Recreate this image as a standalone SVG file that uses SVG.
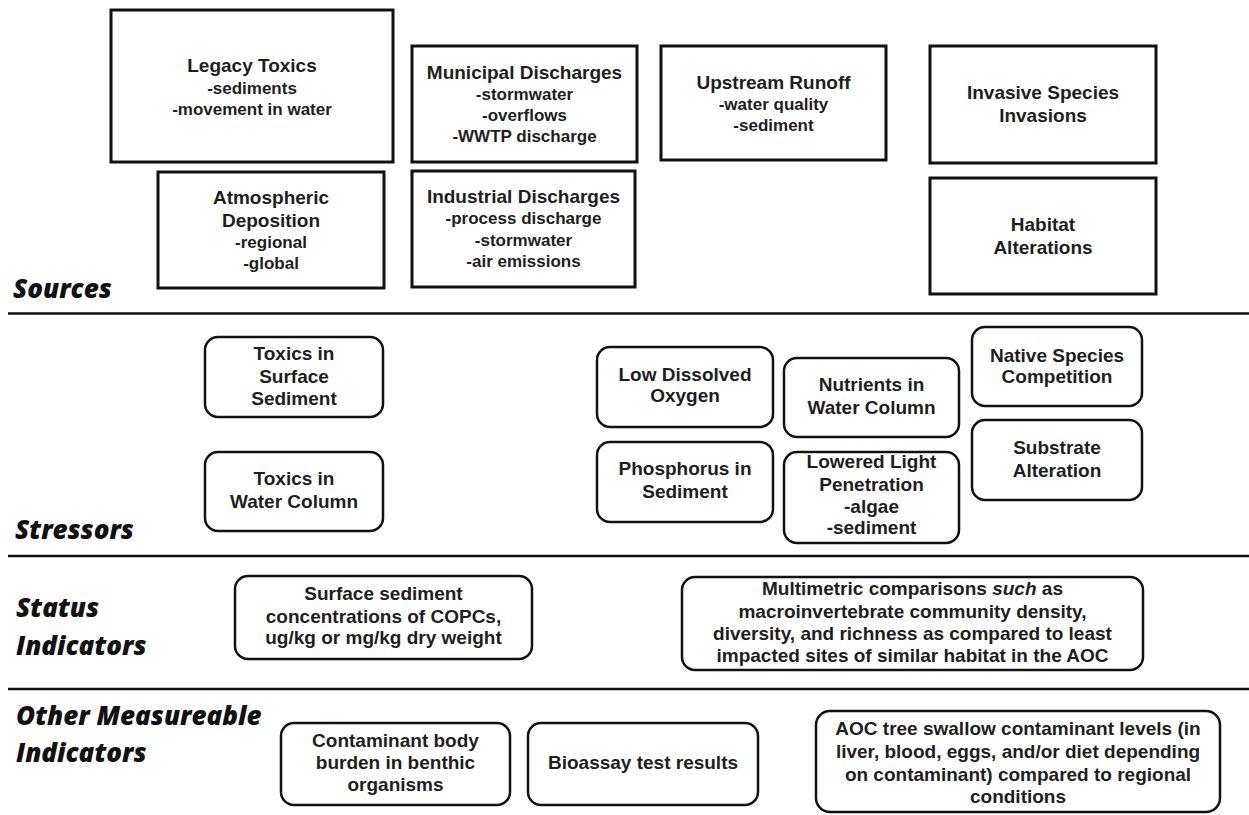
<svg xmlns="http://www.w3.org/2000/svg" width="1249" height="815" viewBox="0 0 1249 815">
  <style>
    .sq { fill: #ffffff; stroke: #111111; stroke-width: 3; }
    .rd { fill: #ffffff; stroke: #111111; stroke-width: 2.5; }
    .rule { stroke: #111111; stroke-width: 2.5; }
    .t { font-family: "Liberation Sans", Arial, sans-serif; font-weight: bold; font-size: 19px; fill: #1e1e1e; text-anchor: middle; }
    .s { font-size: 17px; }
    .lbl { font-family: "Open Sans", "Liberation Sans", sans-serif; font-weight: 800; font-style: italic; font-size: 26px; fill: #111111; }
  </style>

  <rect width="1249" height="815" fill="#ffffff"/>

  <!-- section dividers -->
  <g id="dividers">
    <line class="rule" x1="8" y1="313.5" x2="1249" y2="313.5"/>
    <line class="rule" x1="8" y1="556" x2="1249" y2="556"/>
    <line class="rule" x1="8" y1="689" x2="1249" y2="689"/>
  </g>

  <!-- row labels -->
  <g id="labels">
    <text class="lbl" x="13" y="298">Sources</text>
    <text class="lbl" x="15" y="539">Stressors</text>
    <text class="lbl" x="16" y="617">Status</text>
    <text class="lbl" x="16" y="655">Indicators</text>
    <text class="lbl" x="16" y="725">Other Measureable</text>
    <text class="lbl" x="16" y="762">Indicators</text>
  </g>

  <!-- sources -->
  <g id="legacy-toxics">
    <rect class="sq" x="111" y="10" width="282" height="152"/>
    <text class="t" x="252" y="72">Legacy Toxics</text>
    <text class="t s" x="252" y="94">-sediments</text>
    <text class="t s" x="252" y="115">-movement in water</text>
  </g>
  <g id="municipal-discharges">
    <rect class="sq" x="412" y="46" width="225" height="116"/>
    <text class="t" x="524.5" y="79">Municipal Discharges</text>
    <text class="t s" x="524.5" y="100">-stormwater</text>
    <text class="t s" x="524.5" y="121">-overflows</text>
    <text class="t s" x="524.5" y="142">-WWTP discharge</text>
  </g>
  <g id="upstream-runoff">
    <rect class="sq" x="661" y="46" width="225" height="114"/>
    <text class="t" x="773.5" y="89">Upstream Runoff</text>
    <text class="t s" x="773.5" y="110">-water quality</text>
    <text class="t s" x="773.5" y="131">-sediment</text>
  </g>
  <g id="invasive-species">
    <rect class="sq" x="930" y="46" width="226" height="117"/>
    <text class="t" x="1043" y="99">Invasive Species</text>
    <text class="t" x="1043" y="122">Invasions</text>
  </g>
  <g id="atmospheric-deposition">
    <rect class="sq" x="158" y="172" width="226" height="116"/>
    <text class="t" x="271" y="204">Atmospheric</text>
    <text class="t" x="271" y="227">Deposition</text>
    <text class="t s" x="271" y="248">-regional</text>
    <text class="t s" x="271" y="269">-global</text>
  </g>
  <g id="industrial-discharges">
    <rect class="sq" x="412" y="171" width="223" height="116"/>
    <text class="t" x="523.5" y="203">Industrial Discharges</text>
    <text class="t s" x="523.5" y="224">-process discharge</text>
    <text class="t s" x="523.5" y="246">-stormwater</text>
    <text class="t s" x="523.5" y="267">-air emissions</text>
  </g>
  <g id="habitat-alterations">
    <rect class="sq" x="930" y="178" width="226" height="116"/>
    <text class="t" x="1043" y="231">Habitat</text>
    <text class="t" x="1043" y="254">Alterations</text>
  </g>

  <!-- stressors -->
  <g id="toxics-surface-sediment">
    <rect class="rd" x="205" y="337" width="178" height="80" rx="13"/>
    <text class="t" x="294" y="360">Toxics in</text>
    <text class="t" x="294" y="383">Surface</text>
    <text class="t" x="294" y="405">Sediment</text>
  </g>
  <g id="toxics-water-column">
    <rect class="rd" x="205" y="452" width="178" height="79" rx="13"/>
    <text class="t" x="294" y="485">Toxics in</text>
    <text class="t" x="294" y="508">Water Column</text>
  </g>
  <g id="low-dissolved-oxygen">
    <rect class="rd" x="597" y="347" width="176" height="80" rx="13"/>
    <text class="t" x="685" y="381">Low Dissolved</text>
    <text class="t" x="685" y="402">Oxygen</text>
  </g>
  <g id="phosphorus-sediment">
    <rect class="rd" x="597" y="442" width="176" height="80" rx="13"/>
    <text class="t" x="685" y="475">Phosphorus in</text>
    <text class="t" x="685" y="498">Sediment</text>
  </g>
  <g id="nutrients-water-column">
    <rect class="rd" x="784" y="358" width="175" height="79" rx="13"/>
    <text class="t" x="871.5" y="391">Nutrients in</text>
    <text class="t" x="871.5" y="414">Water Column</text>
  </g>
  <g id="lowered-light">
    <rect class="rd" x="784" y="452" width="175" height="91" rx="13"/>
    <text class="t" x="871.5" y="468">Lowered Light</text>
    <text class="t" x="871.5" y="491">Penetration</text>
    <text class="t" x="871.5" y="513">-algae</text>
    <text class="t" x="871.5" y="534">-sediment</text>
  </g>
  <g id="native-species-competition">
    <rect class="rd" x="972" y="327" width="170" height="79" rx="13"/>
    <text class="t" x="1057" y="362">Native Species</text>
    <text class="t" x="1057" y="383">Competition</text>
  </g>
  <g id="substrate-alteration">
    <rect class="rd" x="972" y="420" width="170" height="80" rx="13"/>
    <text class="t" x="1057" y="454">Substrate</text>
    <text class="t" x="1057" y="477">Alteration</text>
  </g>

  <!-- status indicators -->
  <g id="surface-sediment-concentrations">
    <rect class="rd" x="235" y="576" width="297" height="83" rx="13"/>
    <text class="t" x="383.5" y="600">Surface sediment</text>
    <text class="t" x="383.5" y="623">concentrations of COPCs,</text>
    <text class="t" x="383.5" y="644">ug/kg or mg/kg dry weight</text>
  </g>
  <g id="multimetric-comparisons">
    <rect class="rd" x="682" y="577" width="461" height="93" rx="13"/>
    <text class="t" x="912.5" y="595">Multimetric comparisons <tspan font-style="italic">such</tspan> as</text>
    <text class="t" x="912.5" y="618">macroinvertebrate community density,</text>
    <text class="t" x="912.5" y="640">diversity, and richness as compared to least</text>
    <text class="t" x="912.5" y="662">impacted sites of similar habitat in the AOC</text>
  </g>

  <!-- other measureable indicators -->
  <g id="contaminant-body-burden">
    <rect class="rd" x="281" y="723" width="229" height="82" rx="13"/>
    <text class="t" x="395.5" y="747">Contaminant body</text>
    <text class="t" x="395.5" y="769">burden in benthic</text>
    <text class="t" x="395.5" y="791">organisms</text>
  </g>
  <g id="bioassay">
    <rect class="rd" x="528" y="723" width="230" height="82" rx="13"/>
    <text class="t" x="643" y="769">Bioassay test results</text>
  </g>
  <g id="tree-swallow-levels">
    <rect class="rd" x="816" y="711" width="404" height="101" rx="14"/>
    <text class="t" x="1018" y="735">AOC tree swallow contaminant levels (in</text>
    <text class="t" x="1018" y="758">liver, blood, eggs, and/or diet depending</text>
    <text class="t" x="1018" y="781">on contaminant) compared to regional</text>
    <text class="t" x="1018" y="803">conditions</text>
  </g>
</svg>
